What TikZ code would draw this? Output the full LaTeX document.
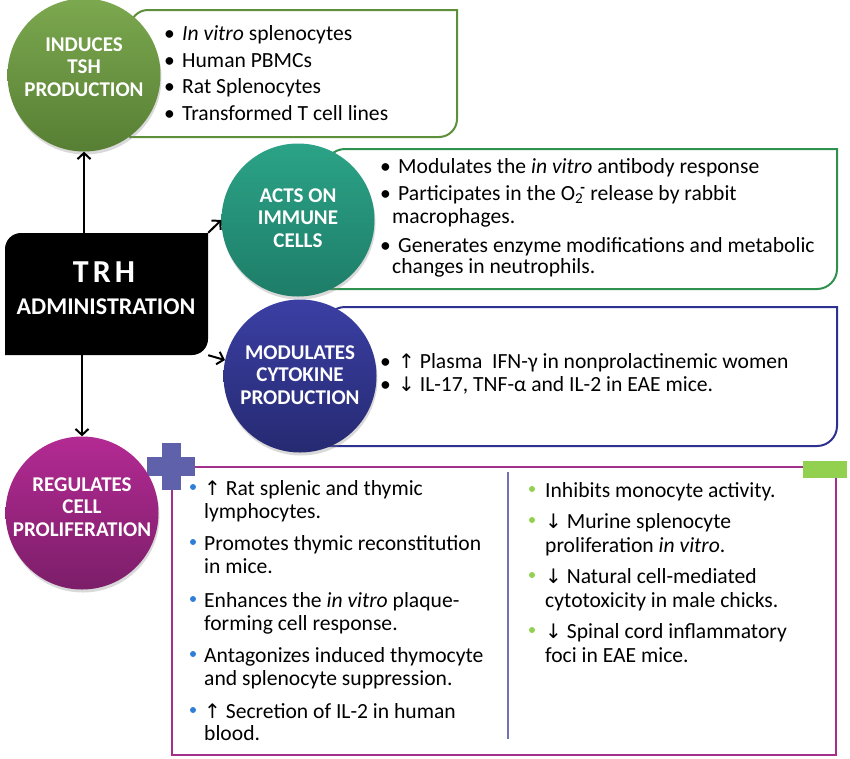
\documentclass[tikz,border=0pt]{standalone}
\usepackage{fontspec}
\setmainfont{Carlito}
\newfontfamily\symfont{DejaVu Sans}
\usepackage{tikz}
\usetikzlibrary{arrows.meta, shadows}
\definecolor{tshtop}{HTML}{7CA84F}
\definecolor{tshbot}{HTML}{577F34}
\definecolor{tshline}{HTML}{5E8F3B}
\definecolor{actstop}{HTML}{2BA386}
\definecolor{actsbot}{HTML}{1E7D68}
\definecolor{actsline}{HTML}{2E9150}
\definecolor{modtop}{HTML}{3B3FA3}
\definecolor{modbot}{HTML}{262A72}
\definecolor{modline}{HTML}{2D3190}
\definecolor{regtop}{HTML}{B32A93}
\definecolor{regbot}{HTML}{7C1E69}
\definecolor{regline}{HTML}{A3318C}
\definecolor{plusblue}{HTML}{5F62AB}
\definecolor{minusgreen}{HTML}{92D050}
\definecolor{dotblue}{HTML}{2F7ED8}
\newcommand\uarr{{\symfont\fontsize{20}{23}\selectfont ↑}}
\newcommand\darr{{\symfont\fontsize{20}{23}\selectfont ↓}}

\begin{document}
\begin{tikzpicture}[
    x=1pt, y=-1pt,
    circ/.style={circle, minimum size=153pt, inner sep=0pt, drop shadow={opacity=0.3, shadow xshift=1pt, shadow yshift=-3pt}},
    ctitle/.style={text=white, align=center, font=\bfseries\fontsize{21}{22.5}\selectfont, inner sep=0pt},
    txt/.style={anchor=west, inner sep=0pt, font=\fontsize{21.6}{23}\selectfont, text height=15pt, text depth=5pt},
    boxline/.style={line width=2pt},
    arrow/.style={-{Straight Barb[length=6pt, width=13pt]}, line width=2pt, black}
]
\useasboundingbox (0,0) rectangle (850,758);

% Boxes behind the circles
\draw[boxline, tshline] (130,137) [rounded corners=18pt] -- (130,10) [sharp corners] -- (457,10) [rounded corners=18pt] -- (457,137) [sharp corners] -- (130,137) -- cycle;
\draw[boxline, actsline] (325,289) [rounded corners=20pt] -- (325,149) [sharp corners] -- (837,149) [rounded corners=20pt] -- (837,289) [sharp corners] -- (325,289) -- cycle;
\draw[boxline, modline] (325,446) [rounded corners=20pt] -- (325,307) [sharp corners] -- (837,307) [rounded corners=20pt] -- (837,446) [sharp corners] -- (325,446) -- cycle;
\draw[boxline, regline] (172,467) rectangle (836,755);
\draw[line width=1.6pt, plusblue!90] (508,472) -- (508,739);

% Plus and minus signs
\fill[plusblue] (147,457) rectangle (195,476);
\fill[plusblue] (162,443) rectangle (181,490);
\fill[minusgreen] (803,461) rectangle (847,478);

% Circles
\node[circ, top color=tshtop, bottom color=tshbot] (tsh) at (84,75) {};
\node[circ, top color=actstop, bottom color=actsbot] (acts) at (298,220) {};
\node[circ, top color=modtop, bottom color=modbot] (mod) at (300,376) {};
\node[circ, top color=regtop, bottom color=regbot] (reg) at (82,513) {};
\node[ctitle] (tshname) at (84,67) {INDUCES\\TSH\\PRODUCTION};
\node[ctitle] (actsname) at (298,218) {ACTS ON\\IMMUNE\\CELLS};
\node[ctitle] (modname) at (300,375) {MODULATES\\CYTOKINE\\PRODUCTION};
\node[ctitle] (regname) at (82,507) {REGULATES\\CELL\\PROLIFERATION};

% TRH box
\fill[black] (5,355) [rounded corners=16pt] -- (5,233) [sharp corners] -- (208,233) [rounded corners=16pt] -- (208,355) [sharp corners] -- (5,355) -- cycle;
\node[minimum width=203pt, minimum height=122pt, inner sep=0pt] (trh) at (106.5,294) {};
\node[text=white, font=\bfseries\fontsize{32}{34}\selectfont, inner sep=0pt] (trhname) at (104,272) {T\hspace{4pt}R\hspace{4pt}H};
\node[text=white, font=\bfseries\fontsize{24}{26}\selectfont, inner sep=0pt] (trhadm) at (106,307) {ADMINISTRATION};

% Arrows
\draw[arrow] (trh.north -| tsh.south) -- (tsh.south);
\draw[arrow] (trh.south -| reg.north) -- (reg.north);
\draw[arrow] (trh.north east) -- (acts.west);
\draw[arrow] (trh.south east) -- (mod.168);

% TSH list
\node[txt] (tsh1) at (164,35) {\makebox[18pt][l]{\textbullet}\textit{In vitro} splenocytes};
\node[txt] (tsh2) at (164,62) {\makebox[18pt][l]{\textbullet}Human PBMCs};
\node[txt] (tsh3) at (164,88) {\makebox[18pt][l]{\textbullet}Rat Splenocytes};
\node[txt] (tsh4) at (164,115) {\makebox[18pt][l]{\textbullet}Transformed T cell lines};

% Immune cells list
\node[txt] (act1) at (380,168) {\makebox[18pt][l]{\textbullet}Modulates the \textit{in vitro} antibody response};
\node[txt] (act2) at (380,195) {\makebox[18pt][l]{\textbullet}Participates in the O\textsubscript{2}\hspace{-3pt}\textsuperscript{\textbf{-}}\ release by rabbit};
\node[txt] (act3) at (392,218) {macrophages.};
\node[txt] (act4) at (380,247) {\makebox[18pt][l]{\textbullet}Generates enzyme modifications and metabolic};
\node[txt] (act5) at (392,268) {changes in neutrophils.};

% Cytokine list
\node[txt] (mod1) at (380,363) {\makebox[18pt][l]{\textbullet}\uarr\ Plasma\ \ IFN-γ in nonprolactinemic women};
\node[txt] (mod2) at (380,386) {\makebox[18pt][l]{\textbullet}\darr\ IL-17, TNF-α and IL-2 in EAE mice.};

% Proliferation: increases
\foreach \y in {487,542,599,654,710}
    \fill[dotblue] (193,\y) circle[radius=3pt];
\node[txt] (plus1) at (204,490) {\uarr\ Rat splenic and thymic};
\node[txt] (plus2) at (204,513) {lymphocytes.};
\node[txt] (plus3) at (204,545) {Promotes thymic reconstitution};
\node[txt] (plus4) at (204,568) {in mice.};
\node[txt] (plus5) at (204,602) {Enhances the \textit{in vitro} plaque-};
\node[txt] (plus6) at (204,625) {forming cell response.};
\node[txt] (plus7) at (204,657) {Antagonizes induced thymocyte};
\node[txt] (plus8) at (204,680) {and splenocyte suppression.};
\node[txt] (plus9) at (204,713) {\uarr\ Secretion of IL-2 in human};
\node[txt] (plus10) at (204,735) {blood.};

% Proliferation: decreases
\foreach \y in {489,520,575,630}
    \fill[minusgreen] (532,\y) circle[radius=3pt];
\node[txt] (minus1) at (545,492) {Inhibits monocyte activity.};
\node[txt] (minus2) at (545,523) {\darr\ Murine splenocyte};
\node[txt] (minus3) at (545,547) {proliferation \textit{in vitro}.};
\node[txt] (minus4) at (545,578) {\darr\ Natural cell-mediated};
\node[txt] (minus5) at (545,602) {cytotoxicity in male chicks.};
\node[txt] (minus6) at (545,633) {\darr\ Spinal cord inflammatory};
\node[txt] (minus7) at (545,657) {foci in EAE mice.};

\end{tikzpicture}
\end{document}
